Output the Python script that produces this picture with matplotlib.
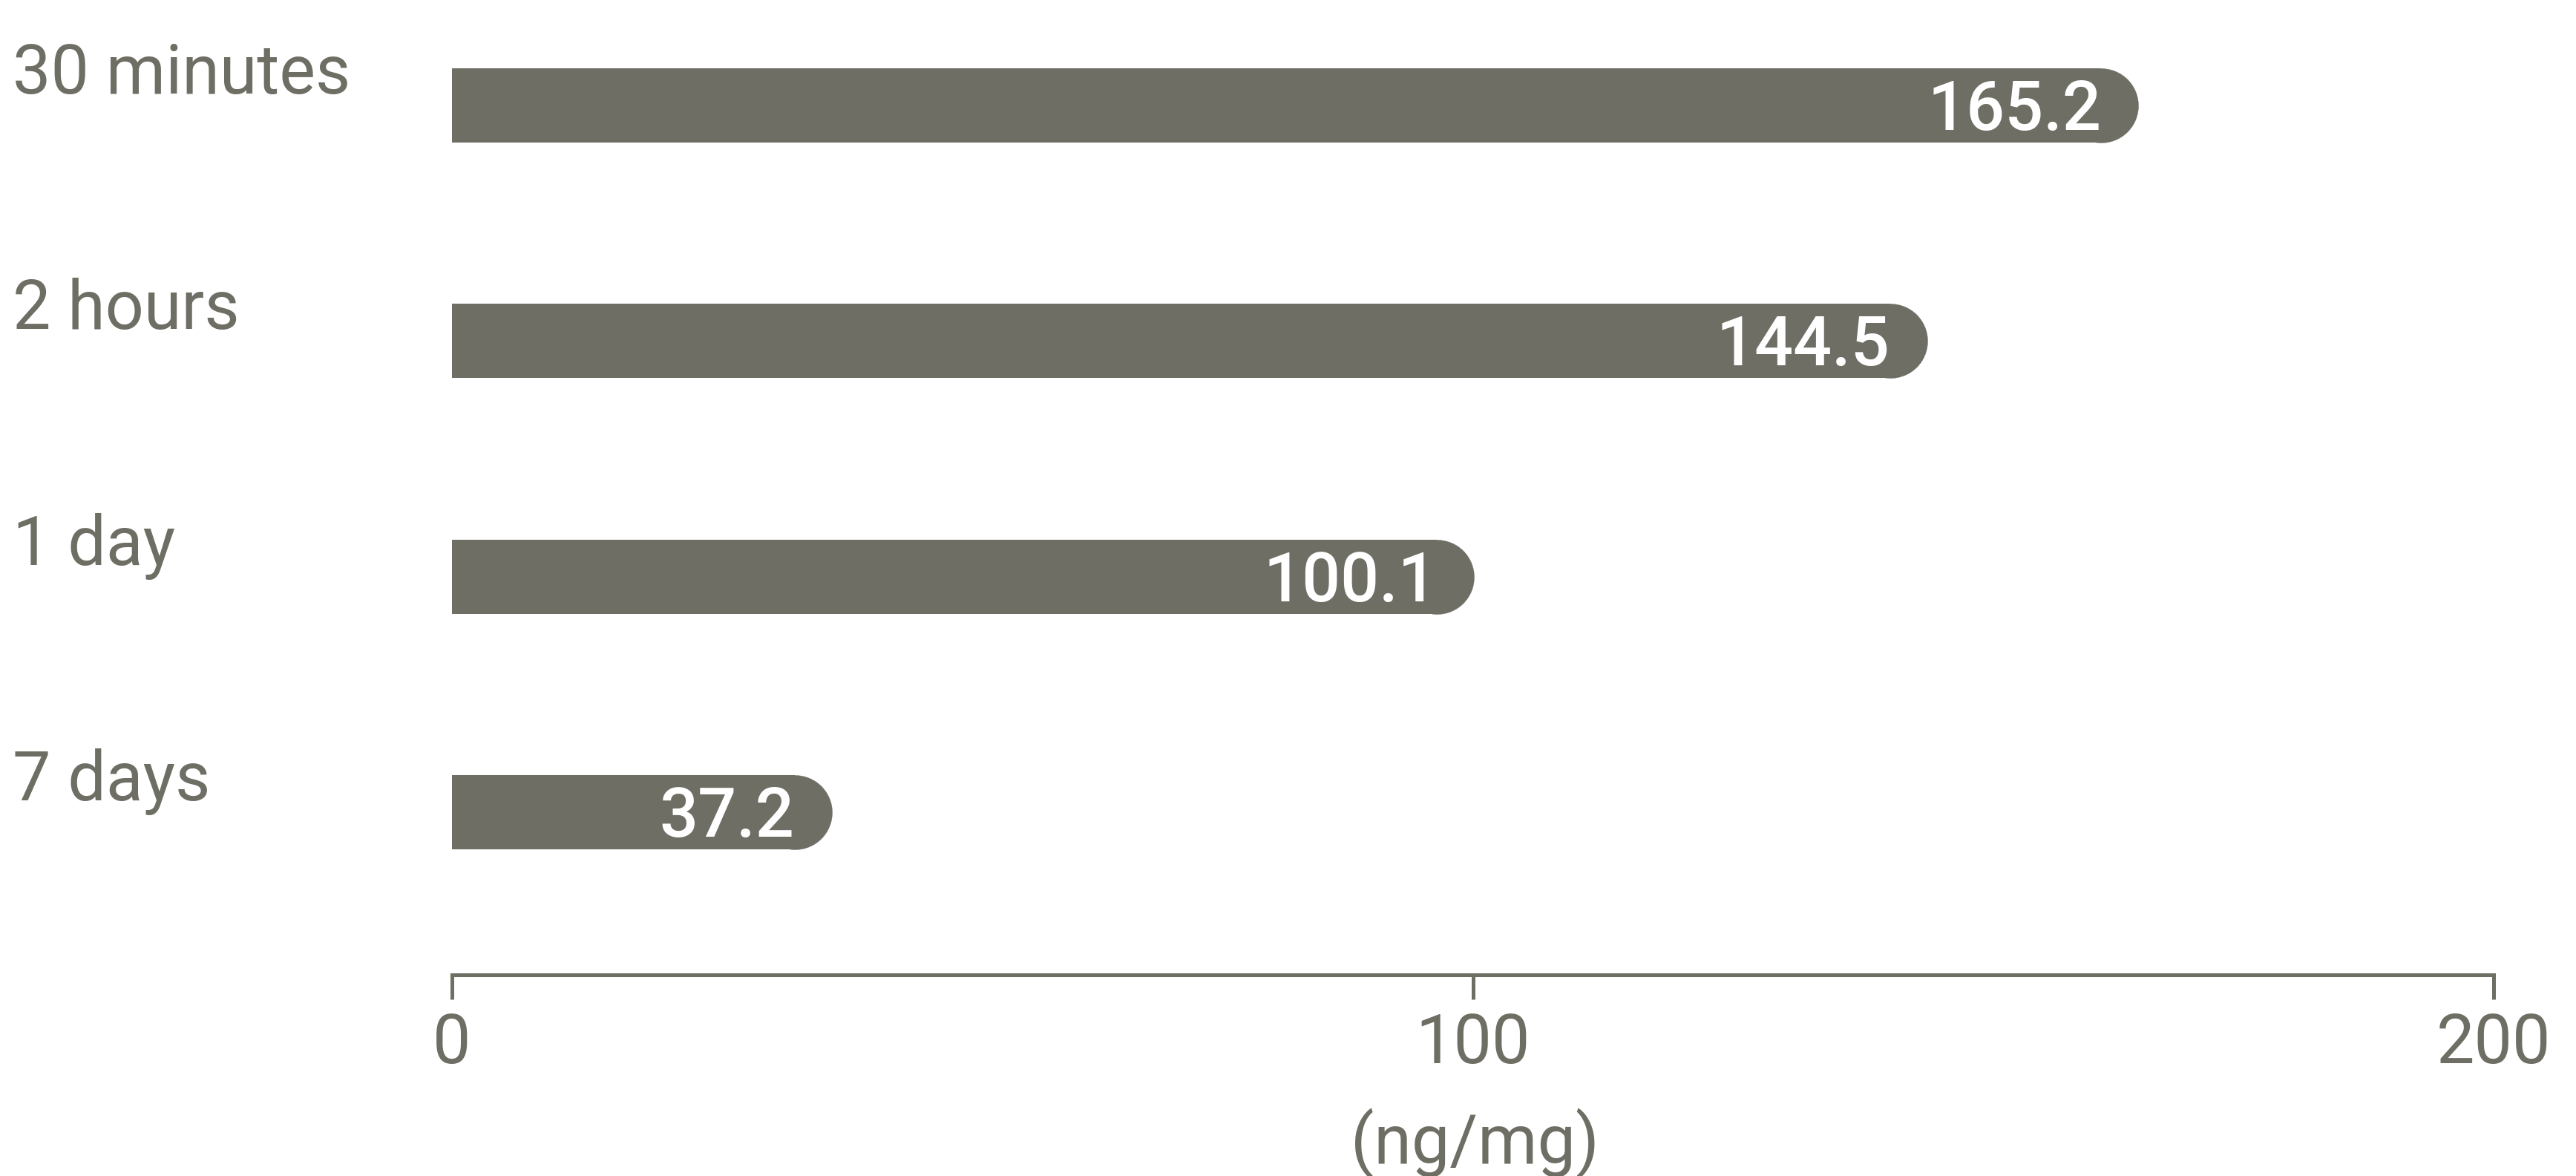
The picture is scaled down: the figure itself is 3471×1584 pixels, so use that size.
import matplotlib
matplotlib.use('Agg')
import matplotlib.pyplot as plt
from matplotlib.transforms import blended_transform_factory, ScaledTranslation

# ---- data ----
categories = ['30 minutes', '2 hours', '1 day', '7 days']
values = [165.2, 144.5, 100.1, 37.2]
value_labels = ['165.2', '144.5', '100.1', '37.2']
xticks = [0, 100, 200]
xtick_labels = ['0', '100', '200']
unit_label = '(ng/mg)'

# ---- style ----
W, H, DPI = 3471, 1584, 100
COLOR = '#6e6e64'
FONT = ['Roboto', 'DejaVu Sans']
FS = 66

plt.rcParams['font.family'] = FONT

fig = plt.figure(figsize=(W / DPI, H / DPI), dpi=DPI)
fig.patch.set_facecolor('white')

x0, x1 = 609 / W, 3360 / W
ax = fig.add_axes([x0, (H - 1313) / H, x1 - x0, 1313 / H])
ax.set_xlim(0, 200)
ax.set_ylim(3.69, -0.4475)

ypos = list(range(len(categories)))
bar_h = 0.315

# radius of rounded end (half bar height) in x data units
fig.canvas.draw()
px_per_unit = ax.transData.transform((1, 0))[0] - ax.transData.transform((0, 0))[0]
px_per_yunit = abs(ax.transData.transform((0, 1))[1] - ax.transData.transform((0, 0))[1])
r_px = bar_h * px_per_yunit / 2
r = r_px / px_per_unit

rect_w = [v - r for v in values]
ax.barh(ypos, rect_w, height=bar_h, left=0, color=COLOR, linewidth=0)
ax.scatter(rect_w, ypos, s=(2 * r_px * 72 / DPI) ** 2, marker='o', color=COLOR,
           edgecolors=COLOR, linewidths=0.3, zorder=2)

# value labels inside bars
for y, w, lab in zip(ypos, rect_w, value_labels):
    tr = ax.transData + ScaledTranslation(0, -33 / DPI, fig.dpi_scale_trans)
    ax.text(w, y, lab, transform=tr, ha='right', va='baseline', color='white',
            fontsize=FS, fontweight='medium', zorder=3)

# category labels at far left
tr_cat = blended_transform_factory(fig.transFigure, ax.transData) + \
    ScaledTranslation(0, 16 / DPI, fig.dpi_scale_trans)
for y, cat in zip(ypos, categories):
    ax.text(17 / W, y, cat, transform=tr_cat, ha='left', va='baseline',
            color=COLOR, fontsize=FS, clip_on=False)

# axis styling
for s in ['top', 'right', 'left']:
    ax.spines[s].set_visible(False)
ax.spines['bottom'].set_color(COLOR)
ax.spines['bottom'].set_linewidth(3.6)
ax.set_yticks([])
ax.set_xticks(xticks)
ax.set_xticklabels(xtick_labels)
ax.tick_params(axis='x', direction='out', length=24, width=3.6, color=COLOR,
               pad=11, labelsize=FS, labelcolor=COLOR)
ax.set_facecolor('none')

fig.text(1987 / W, (H - 1567) / H, unit_label, ha='center', va='baseline',
         color=COLOR, fontsize=FS)

fig.savefig('out.png', dpi=DPI, facecolor='white')
